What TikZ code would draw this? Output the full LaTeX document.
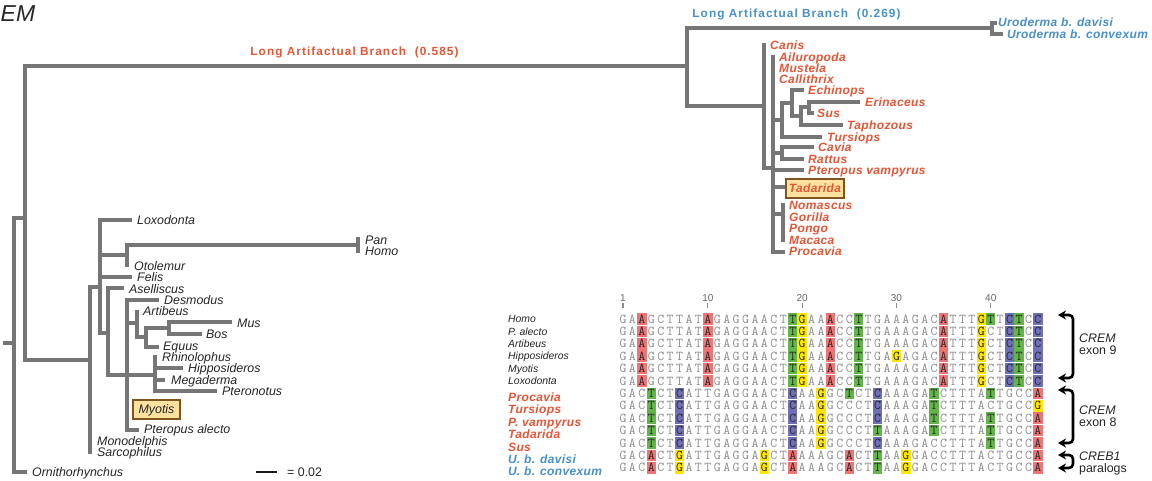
\documentclass[tikz,border=0pt]{standalone}
\usepackage{fontspec}
\setmainfont{Liberation Sans}
\newfontfamily\spaced[LetterSpace=9]{Liberation Sans}
\newfontfamily\tracked[LetterSpace=3]{Liberation Sans}
\usetikzlibrary{arrows.meta}

\definecolor{treegray}{RGB}{118,118,118}
\definecolor{labred}{RGB}{232,84,52}
\definecolor{labblue}{RGB}{72,144,204}
\definecolor{hlr}{RGB}{240,116,116}
\definecolor{hlg}{RGB}{98,182,72}
\definecolor{hly}{RGB}{255,230,0}
\definecolor{hlb}{RGB}{112,112,184}
\definecolor{boxfill}{RGB}{252,226,158}
\definecolor{boxline}{RGB}{128,84,32}
\definecolor{seqgray}{RGB}{140,140,140}

\tikzstyle{br} = [line width=3.8pt, treegray, line cap=rect]
\tikzstyle{taxon} = [anchor=base west, inner sep=0pt, yshift=-4.4pt,
  font=\fontsize{12.4}{14}\selectfont\itshape, text=black!85]
\tikzstyle{redtaxon} = [taxon, font=\fontsize{12}{14}\selectfont\tracked\bfseries\itshape, text=labred]
\tikzstyle{bluetaxon} = [redtaxon, text=labblue]
\tikzstyle{hilite} = [fill=boxfill, draw=boxline, line width=1.8pt, inner sep=0pt,
  text height=8.8pt, text depth=0pt]
\tikzstyle{branchlabel} = [anchor=base, inner sep=0pt, yshift=-4.2pt,
  font=\fontsize{11.8}{14}\selectfont\spaced\bfseries]
\tikzstyle{nt} = [anchor=base, inner sep=0pt, yshift=-4.1pt,
  font=\fontsize{13.5}{14}\selectfont\ttfamily, text=seqgray]
\tikzstyle{ntdark} = [nt, text=black!85]
\tikzstyle{seqname} = [anchor=base west, inner sep=0pt, yshift=-3.7pt,
  font=\fontsize{10.4}{12}\selectfont\itshape, text=black!85]
\tikzstyle{redseqname} = [seqname, yshift=-4.3pt,
  font=\fontsize{12}{14}\selectfont\tracked\bfseries\itshape, text=labred]
\tikzstyle{blueseqname} = [redseqname, text=labblue]
\tikzstyle{gene} = [anchor=base west, inner sep=0pt, yshift=-4.4pt,
  font=\fontsize{12.4}{14}\selectfont, text=black!85]
\tikzstyle{bracket} = [line width=2.6pt, rounded corners=4pt,
  {Stealth[length=8pt,width=9pt]}-{Stealth[length=8pt,width=9pt]}]

\newcount\colno
\def\seqloop#1{%
  \ifx#1\relax\else
    \global\advance\colno by 1
    \ifcsname hl\rowtag-\the\colno\endcsname
      \node[ntdark] (\rowtag-\the\colno) at ({613.57+9.43*\the\colno},\rowy) {#1};%
    \else
      \node[nt] (\rowtag-\the\colno) at ({613.57+9.43*\the\colno},\rowy) {#1};%
    \fi
    \expandafter\seqloop
  \fi}
\newcommand\alnrow[4]{%
  \def\rowtag{#1}\def\rowy{#2}%
  \foreach \hcol/\hclr in {#4}{%
    \fill[fill=\hclr] ({608.85+9.43*\hcol},{#2-5.8}) rectangle ++(9.43,11.6);
    \expandafter\gdef\csname hl#1-\hcol\endcsname{}}%
  \global\colno=0
  \seqloop#3\relax}

\begin{document}
\begin{tikzpicture}[x=1pt, y=-1pt]
\useasboundingbox (0,0) rectangle (1152,481);
\fill[white] (0,0) rectangle (1152,481);

\node[anchor=base west, inner sep=0pt, font=\fontsize{23}{26}\selectfont\itshape, text=black!85] (title) at (0.5,22) {EM};

\draw[br] (25,218) -- (14,218) -- (14,472) -- (25,472);
\draw[br] (5,343) -- (14,343);
\draw[br] (687,66) -- (25,66) -- (25,360) -- (90,360);
\draw[br] (90,452) -- (90,287) -- (100,287);
\draw[br] (130,220) -- (100,220) -- (100,333) -- (108,333);
\draw[br] (100,255) -- (127,255);
\draw[br] (358,245) -- (127,245) -- (127,265);
\draw[br] (358,239) -- (358,251);
\draw[br] (100,277) -- (130,277);
\draw[br] (122,288) -- (108,288) -- (108,375) -- (155,375);
\draw[br] (157,300) -- (127,300) -- (127,430) -- (137,430);
\draw[br] (127,323) -- (137,323);
\draw[br] (137,312) -- (137,337) -- (146,337);
\draw[br] (169,328) -- (146,328) -- (146,347) -- (157,347);
\draw[br] (230,322) -- (169,322) -- (169,334) -- (200,334);
\draw[br] (155,357) -- (155,391) -- (215,391);
\draw[br] (155,368) -- (181,368);
\draw[br] (155,380) -- (163,380);

\draw[br] (992,28) -- (687,28) -- (687,106) -- (764,106);
\draw[br] (995,23) -- (992,23) -- (992,34) -- (1001,34);
\draw[br] (764,45) -- (764,168) -- (773,168);
\draw[br] (773,57) -- (773,252) -- (783,252);
\draw[br] (773,120) -- (782,120);
\draw[br] (792,103) -- (782,103) -- (782,137) -- (820,137);
\draw[br] (802,90) -- (792,90) -- (792,116) -- (801,116);
\draw[br] (809,107) -- (801,107) -- (801,125) -- (841,125);
\draw[br] (858,102) -- (809,102) -- (809,113) -- (812,113);
\draw[br] (773,153) -- (782,153);
\draw[br] (812,147) -- (782,147) -- (782,159) -- (802,159);
\draw[br] (773,170) -- (802,170);
\draw[br] (773,187) -- (783,187);
\draw[br] (773,214) -- (783,214);
\draw[br] (783,205) -- (783,240);

\node[branchlabel, text=labred] (lab585) at (354.5,51) {Long Artifactual Branch\ \ (0.585)};
\node[branchlabel, text=labblue] (lab269) at (796.5,13) {Long Artifactual Branch\ \ (0.269)};

\node[taxon] (orn) at (32,472) {Ornithorhynchus};
\node[taxon] (mono) at (97,441) {Monodelphis};
\node[taxon] (sarc) at (97,452) {Sarcophilus};
\node[taxon] (lox) at (137,220) {Loxodonta};
\node[taxon] (pan) at (365,240) {Pan};
\node[taxon] (homo) at (365,251) {Homo};
\node[taxon] (oto) at (134,266) {Otolemur};
\node[taxon] (fel) at (137,277) {Felis};
\node[taxon] (asel) at (129,289) {Aselliscus};
\node[taxon] (desm) at (164,300) {Desmodus};
\node[taxon] (arti) at (143,311) {Artibeus};
\node[taxon] (mus) at (237,323) {Mus};
\node[taxon] (bos) at (206,334) {Bos};
\node[taxon] (equ) at (163,346) {Equus};
\node[taxon] (rhin) at (162,357) {Rhinolophus};
\node[taxon] (hipp) at (188,368) {Hipposideros};
\node[taxon] (mega) at (171,380) {Megaderma};
\node[taxon] (pter) at (222,391) {Pteronotus};
\node[hilite, minimum width=47pt, minimum height=19pt, font=\fontsize{12.4}{14}\selectfont\itshape, text=black!85] (myo) at (156.5,409.5) {Myotis};
\node[taxon] (palec) at (144,429) {Pteropus alecto};

\node[bluetaxon] (davisi) at (998,22) {Uroderma b. davisi};
\node[bluetaxon] (convex) at (1007,34) {Uroderma b. convexum};
\node[redtaxon] (canis) at (770,45) {Canis};
\node[redtaxon] (ailu) at (779,57) {Ailuropoda};
\node[redtaxon] (must) at (779,68) {Mustela};
\node[redtaxon] (call) at (779,79) {Callithrix};
\node[redtaxon] (echi) at (808,90) {Echinops};
\node[redtaxon] (erin) at (865,102) {Erinaceus};
\node[redtaxon] (sus) at (817,113) {Sus};
\node[redtaxon] (taph) at (847,125) {Taphozous};
\node[redtaxon] (turs) at (827,137) {Tursiops};
\node[redtaxon] (cavia) at (818,147) {Cavia};
\node[redtaxon] (ratt) at (808,159) {Rattus};
\node[redtaxon] (pvamp) at (808,170) {Pteropus vampyrus};
\node[hilite, minimum width=58pt, minimum height=19pt, font=\fontsize{12}{14}\selectfont\tracked\bfseries\itshape, text=labred] (tad) at (815,188.5) {Tadarida};
\node[redtaxon] (noma) at (789,205) {Nomascus};
\node[redtaxon] (gori) at (789,217) {Gorilla};
\node[redtaxon] (pong) at (789,228) {Pongo};
\node[redtaxon] (maca) at (789,240) {Macaca};
\node[redtaxon] (proc) at (789,251) {Procavia};

\draw[line width=2.8pt, black!90] (256,472) -- (277,472);
\node[gene] (scale) at (287,472) {= 0.02};

\foreach \n in {1,10,20,30,40} {
  \draw[seqgray, line width=1.2pt] ({613.57+9.43*\n},303) -- ++(0,5);
  \node[anchor=base, inner sep=0pt, yshift=-3.6pt, font=\fontsize{10}{12}\selectfont, text=black!60] (tick\n) at ({613.57+9.43*\n},298) {\n};
}

\node[seqname] (s-homo) at (508,319) {Homo};
\node[seqname] (s-palec) at (508,331.4) {P. alecto};
\node[seqname] (s-arti) at (508,343.8) {Artibeus};
\node[seqname] (s-hipp) at (508,356.2) {Hipposideros};
\node[seqname] (s-myo) at (508,368.6) {Myotis};
\node[seqname] (s-lox) at (508,381) {Loxodonta};
\node[redseqname] (s-proc) at (508,393.4) {Procavia};
\node[redseqname] (s-turs) at (508,405.8) {Tursiops};
\node[redseqname] (s-pvamp) at (508,418.2) {P. vampyrus};
\node[redseqname] (s-tad) at (508,430.6) {Tadarida};
\node[redseqname] (s-sus) at (508,443) {Sus};
\node[blueseqname] (s-davisi) at (508,455.4) {U. b. davisi};
\node[blueseqname] (s-convex) at (508,467.8) {U. b. convexum};

\alnrow{homo}{319}{GAAGCTTATAGAGGAACTTGAAACCTTGAAAGACATTTGTTCTCC}{3/hlr,10/hlr,19/hlg,20/hly,23/hlr,26/hlg,35/hlr,39/hly,40/hlg,42/hlb,43/hlg,45/hlb}
\alnrow{palec}{331.4}{GAAGCTTATAGAGGAACTTGAAACCTTGAAAGACATTTGCTCTCC}{3/hlr,10/hlr,19/hlg,20/hly,23/hlr,26/hlg,35/hlr,39/hly,42/hlb,43/hlg,45/hlb}
\alnrow{arti}{343.8}{GAAGCTTATAGAGGAACTTGAAACCTTGAAAGACATTTGCTCTCC}{3/hlr,10/hlr,19/hlg,20/hly,23/hlr,26/hlg,35/hlr,39/hly,42/hlb,43/hlg,45/hlb}
\alnrow{hipp}{356.2}{GAAGCTTATAGAGGAACTTGAAACCTTGAGAGACATTTGCTCTCC}{3/hlr,10/hlr,19/hlg,20/hly,23/hlr,26/hlg,30/hly,35/hlr,39/hly,42/hlb,43/hlg,45/hlb}
\alnrow{myo}{368.6}{GAAGCTTATAGAGGAACTTGAAACCTTGAAAGACATTTGCTCTCC}{3/hlr,10/hlr,19/hlg,20/hly,23/hlr,26/hlg,35/hlr,39/hly,42/hlb,43/hlg,45/hlb}
\alnrow{lox}{381}{GAAGCTTATAGAGGAACTTGAAACCTTGAAAGACATTTGCTCTCC}{3/hlr,10/hlr,19/hlg,20/hly,23/hlr,26/hlg,35/hlr,39/hly,42/hlb,43/hlg,45/hlb}
\alnrow{proc}{393.4}{GACTCTCATTGAGGAACTCAAGGCTCTCAAAGATCTTTATTGCCA}{4/hlg,7/hlb,19/hlb,22/hly,25/hlg,28/hlb,34/hlg,40/hlg,45/hlr}
\alnrow{turs}{405.8}{GACTCTCATTGAGGAACTCAAGGCCCTCAAAGATCTTTACTGCCG}{4/hlg,7/hlb,19/hlb,22/hly,28/hlb,34/hlg,45/hly}
\alnrow{pvamp}{418.2}{GACTCTCATTGAGGAACTCAAGGCCCTCAAAGATCTTTATTGCCA}{4/hlg,7/hlb,19/hlb,22/hly,28/hlb,34/hlg,40/hlg,45/hlr}
\alnrow{tad}{430.6}{GACTCTCATTGAGGAACTCAAGGCCCTTAAAGATCTTTATTGCCA}{4/hlg,7/hlb,19/hlb,22/hly,28/hlg,34/hlg,40/hlg,45/hlr}
\alnrow{sus}{443}{GACTCTCATTGAGGAACTCAAGGCCCTCAAAGACCTTTATTGCCA}{4/hlg,7/hlb,19/hlb,22/hly,28/hlb,40/hlg,45/hlr}
\alnrow{davisi}{455.4}{GACACTGATTGAGGAGCTAAAAGCACTTAAGGACCTTTACTGCCA}{4/hlr,7/hly,16/hly,19/hlr,25/hlr,28/hlg,31/hly,45/hlr}
\alnrow{convex}{467.8}{GACACTGATTGAGGAGCTAAAAGCACTTAAGGACCTTTACTGCCA}{4/hlr,7/hly,16/hly,19/hlr,25/hlr,28/hlg,31/hly,45/hlr}

\coordinate (e9top) at (1058,315);
\coordinate (e9bot) at (1058,378);
\coordinate (e8top) at (1058,390);
\coordinate (e8bot) at (1058,443);
\coordinate (crtop) at (1058,455);
\coordinate (crbot) at (1058,468);
\draw[bracket] (e9top) -- ++(15,0) |- (e9bot);
\draw[bracket] (e8top) -- ++(15,0) |- (e8bot);
\draw[bracket] (crtop) -- ++(15,0) |- (crbot);

\node[gene] (crem9) at (1079,338) {\itshape CREM};
\node[gene] (exon9) at (1079,350) {exon 9};
\node[gene] (crem8) at (1079,410) {\itshape CREM};
\node[gene] (exon8) at (1079,422.3) {exon 8};
\node[gene] (creb) at (1079,456) {\itshape CREB1};
\node[gene] (paral) at (1079,468.3) {paralogs};
\end{tikzpicture}
\end{document}
